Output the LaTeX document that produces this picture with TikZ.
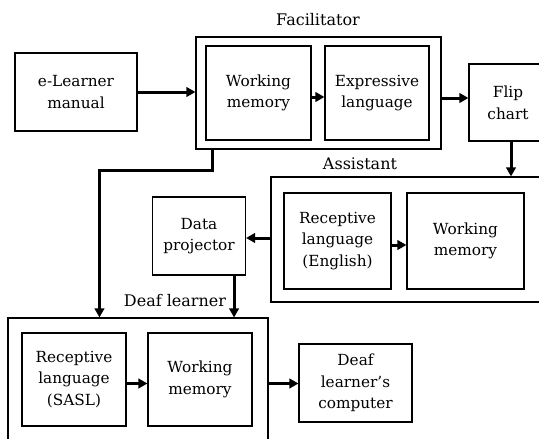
\documentclass[tikz,border=0pt]{standalone}
\usepackage{fontspec}
\setmainfont{DejaVu Serif}
\usetikzlibrary{arrows.meta}
\begin{document}
\begin{tikzpicture}[x=1pt,y=-1pt,
  box/.style={draw, line width=1.1pt, align=center, inner sep=0pt, font=\fontsize{15.3}{21.5}\selectfont},
  lbl/.style={inner sep=0pt, font=\fontsize{16}{20}\selectfont},
  arr/.style={line width=3pt, -{Triangle[length=9pt,width=9.5pt]}}]
\useasboundingbox (0,0) rectangle (539,439);
\clip (0,0) rectangle (539,439);
% containers
\node[box, minimum width=245pt, minimum height=112pt] (fac) at (318.5,93) {};
\node[box, minimum width=278pt, minimum height=125pt] (asst) at (410,239.5) {};
\node[box, minimum width=260pt, minimum height=160pt] (deaf) at (138,398) {};
% labels
\node[lbl] (lfac) at (318,20) {Facilitator};
\node[lbl] (lasst) at (360,164) {Assistant};
\node[lbl] (ldeaf) at (175,301) {Deaf learner};
% boxes
\node[box, minimum width=122pt, minimum height=78pt] (elearn) at (76,92) {e-Learner\\manual};
\node[box, minimum width=105pt, minimum height=94pt] (wmf) at (258.5,93) {Working\\memory};
\node[box, minimum width=104pt, minimum height=94pt] (expr) at (377,93) {Expressive\\language};
\node[box, minimum width=78pt, minimum height=77pt] (flipbox) at (508,102.5) {};
\node[lbl, font=\fontsize{15.3}{21.5}\selectfont, align=center] (flip) at (508,103) {Flip\\chart};
\node[box, minimum width=107pt, minimum height=96pt] (reca) at (337.5,241) {Receptive\\language\\(English)};
\node[box, minimum width=117pt, minimum height=96pt] (wma) at (465.5,241) {Working\\memory};
\node[box, minimum width=93pt, minimum height=78pt] (dp) at (199,236) {Data\\projector};
\node[box, minimum width=104pt, minimum height=93pt] (sasl) at (74,379.5) {Receptive\\language\\(SASL)};
\node[box, minimum width=104pt, minimum height=93pt] (wmd) at (200,379.5) {Working\\memory};
\node[box, minimum width=113pt, minimum height=78pt] (comp) at (355.5,383) {Deaf\\learner’s\\computer};
% arrows
\draw[arr] (elearn.east) -- (elearn.east -| fac.west);
\draw[arr] ([yshift=-4pt]wmf.east) -- ([yshift=-4pt]expr.west);
\draw[arr] ([yshift=-5pt]fac.east) -- ([yshift=-5pt]fac.east -| flipbox.west);
\draw[arr] ([xshift=3pt]flipbox.south) -- ([xshift=3pt]flipbox.south |- asst.north);
\draw[arr] ([yshift=-2pt]asst.west |- dp.east) -- ([yshift=-2pt]dp.east);
\draw[arr] ([yshift=-4pt]reca.east) -- ([yshift=-4pt]wma.west);
\draw[arr] ([xshift=-12pt]dp.south east) -- ([xshift=-12pt]dp.south east |- deaf.north);
\draw[arr] ([xshift=17pt]fac.south west) -- ++(0,21) -| ([xshift=92pt]deaf.north west);
\draw[arr] ([yshift=-4pt]sasl.east) -- ([yshift=-4pt]wmd.west);
\draw[arr] ([yshift=-4pt]deaf.east |- wmd.east) -- ([yshift=-4pt]wmd.east -| comp.west);
\end{tikzpicture}
\end{document}
